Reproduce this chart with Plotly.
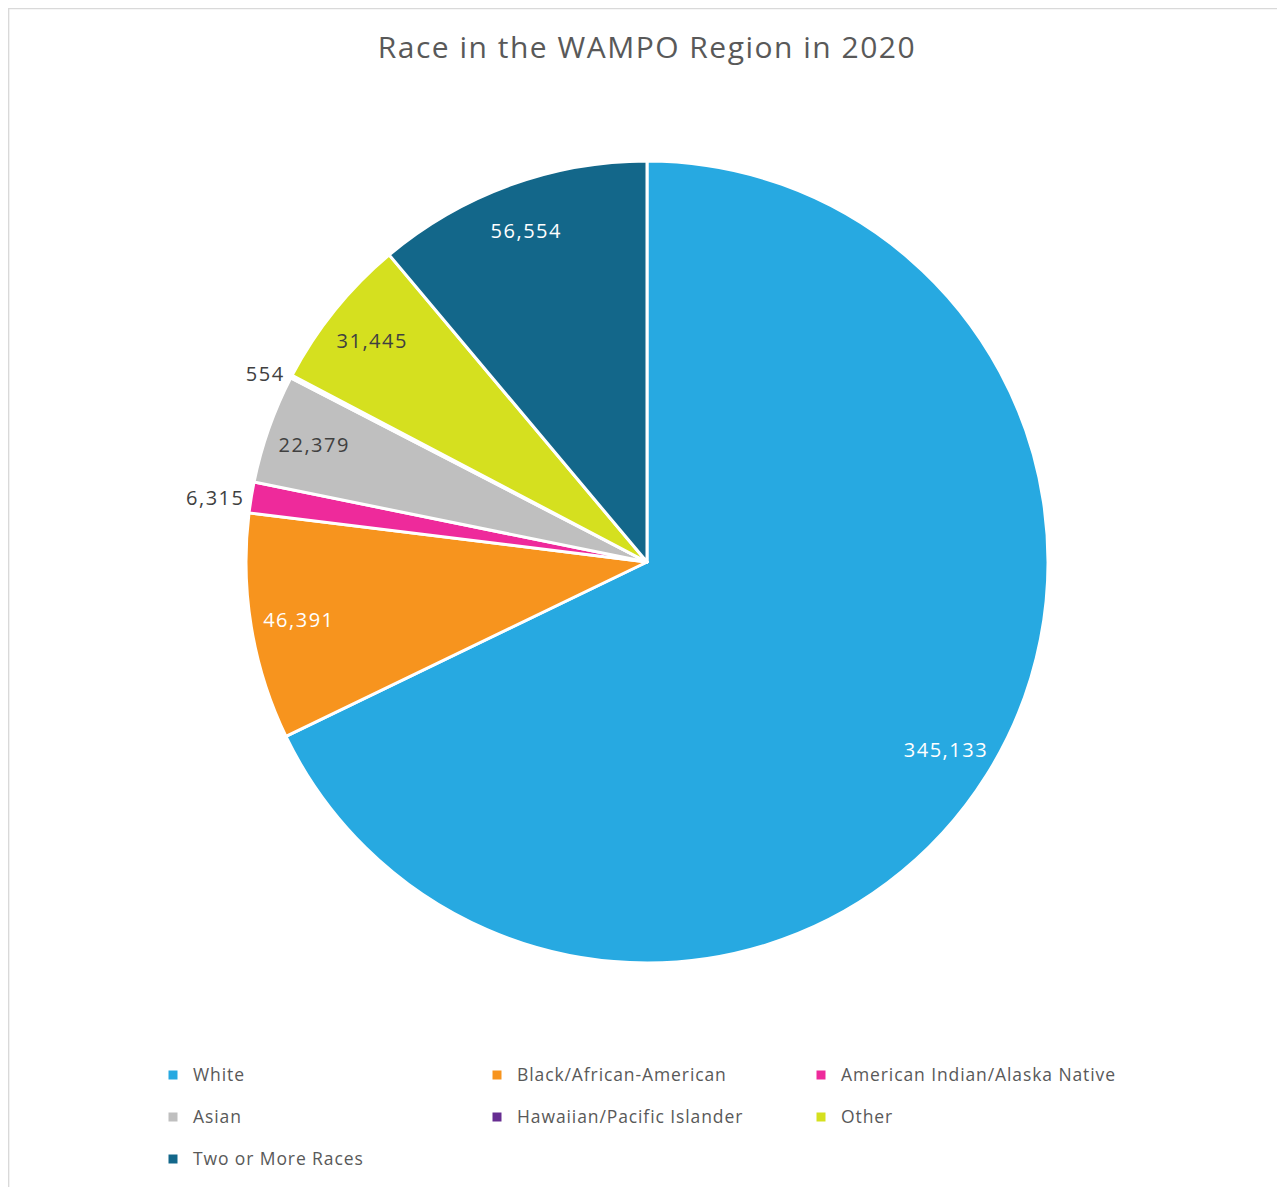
import plotly.graph_objects as go

categories = ["White", "Black/African-American", "American Indian/Alaska Native",
              "Asian", "Hawaiian/Pacific Islander", "Other", "Two or More Races"]
population = [345133, 46391, 6315, 22379, 554, 31445, 56554]
colors = ["#27A9E1", "#F7941E", "#EE2A9B", "#BFBFBF", "#662D91", "#D5E01F", "#13678A"]
text_colors = ["white", "white", "#404040", "#404040", "#404040", "#404040", "white"]
text_positions = ["inside", "inside", "outside", "inside", "outside", "inside", "inside"]

W, H = 1285, 1187
OFF = 8  # page body margin
cx, cy, r = 647 - OFF, 562 - OFF, 401

font_family = "'Open Sans', Lato, sans-serif"
domain = dict(x=[(cx - r) / W, (cx + r) / W], y=[1 - (cy + r) / H, 1 - (cy - r) / H])

legend_labels = [f'<span style="font-size:17.5px;letter-spacing:0.9px;baseline-shift:6px">{c}</span>'
                 for c in categories]

fig = go.Figure()
# full pie: slices and legend
fig.add_trace(go.Pie(
    labels=legend_labels,
    values=population,
    sort=False,
    direction="clockwise",
    rotation=0,
    marker=dict(colors=colors, line=dict(color="white", width=3)),
    textinfo="none",
    hoverinfo="skip",
    domain=domain,
))
# transparent ring carrying the data labels (places them near the rim like the original)
fig.add_trace(go.Pie(
    labels=legend_labels,
    values=population,
    sort=False,
    direction="clockwise",
    rotation=0,
    hole=0.76,
    showlegend=False,
    marker=dict(colors=["rgba(0,0,0,0)"] * len(population), line=dict(width=0)),
    texttemplate='<span style="letter-spacing:1.5px">%{value:,}</span>',
    textposition=text_positions,
    textfont=dict(color=text_colors, size=20, family=font_family),
    insidetextorientation="horizontal",
    hoverinfo="skip",
    domain=domain,
))

fig.update_layout(
    width=W, height=H,
    margin=dict(l=0, r=0, t=0, b=0),
    paper_bgcolor="white",
    uniformtext=dict(minsize=20, mode="show"),
    title=dict(text='<span style="letter-spacing:1.5px">Race in the WAMPO Region in 2020</span>',
               x=(647 - OFF) / W, xanchor="center",
               y=1 - (47 - OFF) / H, yanchor="middle",
               font=dict(family=font_family, size=30, color="#595959")),
    legend=dict(orientation="h", x=(153 - OFF) / W, xanchor="left", y=1 - (1049 - OFF) / H, yanchor="top",
                entrywidth=279, entrywidthmode="pixels",
                font=dict(family=font_family, size=30, color="#595959"),
                traceorder="normal"),
    shapes=[dict(type="rect", xref="paper", yref="paper",
                 x0=0.6 / W, x1=1.02, y0=-0.02, y1=1 - 0.6 / H,
                 line=dict(color="#D9D9D9", width=1.5), fillcolor="rgba(0,0,0,0)", layer="below")],
)

fig.write_html("out.html")
